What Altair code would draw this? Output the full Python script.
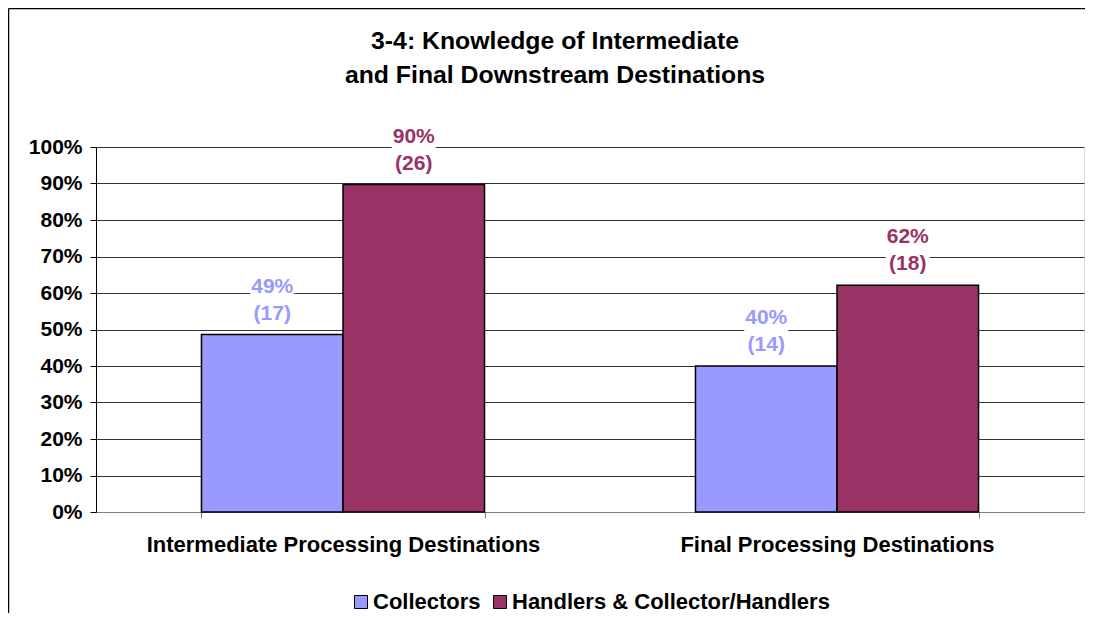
import altair as alt
import pandas as pd

categories = ["Intermediate Processing Destinations", "Final Processing Destinations"]
series = ["Collectors", "Handlers & Collector/Handlers"]
collectors_values = [0.486, 0.400]
handlers_values = [0.897, 0.621]
collectors_pct_labels = ["49%", "40%"]
handlers_pct_labels = ["90%", "62%"]
collectors_count_labels = ["(17)", "(14)"]
handlers_count_labels = ["(26)", "(18)"]
y_ticks = [0, 0.1, 0.2, 0.3, 0.4, 0.5, 0.6, 0.7, 0.8, 0.9, 1.0]
colors = ["#9999FF", "#993366"]

rows = []
for i, c in enumerate(categories):
    rows.append({"category": c, "series": series[0], "value": collectors_values[i],
                 "pct": collectors_pct_labels[i], "count": collectors_count_labels[i]})
    rows.append({"category": c, "series": series[1], "value": handlers_values[i],
                 "pct": handlers_pct_labels[i], "count": handlers_count_labels[i]})
df = pd.DataFrame(rows)

FONT = "Liberation Sans"
color_scale = alt.Scale(domain=series, range=colors)

W = 988
H = 365

base = alt.Chart(df).encode(
    x=alt.X("category:N", sort=categories,
            scale=alt.Scale(paddingInner=0.427, paddingOuter=0.2135),
            axis=alt.Axis(title=None, labelAngle=0, labelFont=FONT, labelFontSize=22,
                          labelFontWeight="bold", labelColor="black", tickBand="extent",
                          tickSize=6, tickColor="#808080", domainColor="#808080",
                          labelPadding=33, labelBaseline="alphabetic", labelLimit=0,
                          grid=False)),
    xOffset=alt.XOffset("series:N", sort=series, scale=alt.Scale(paddingInner=0, paddingOuter=0)),
    y=alt.Y("value:Q", scale=alt.Scale(domain=[0, 1], nice=False),
            axis=alt.Axis(title=None, values=y_ticks, format=".0%", labelFont=FONT,
                          labelFontSize=21, labelFontWeight="bold", labelColor="black",
                          tickSize=6, tickColor="black", domainColor="black", labelPadding=8,
                          grid=True, gridColor="#333333", gridWidth=1)),
)

bars = base.mark_bar(stroke="black", strokeWidth=1.5).encode(
    color=alt.Color("series:N", scale=color_scale, sort=series,
                    legend=alt.Legend(title=None, orient="none", direction="horizontal",
                                      legendX=254, legendY=444, symbolType="square",
                                      symbolSize=169, symbolStrokeColor="black",
                                      symbolStrokeWidth=1, labelFont=FONT, labelFontSize=22,
                                      labelFontWeight="bold", labelColor="black",
                                      labelOffset=1, columnPadding=8, padding=0,
                                      labelLimit=0))
)

boxes = base.mark_point(shape="M-1,-1.15H1V1.15H-1Z", size=1936, filled=True,
                        color="white", opacity=1, strokeWidth=0, yOffset=-34)

pct_text = base.mark_text(font=FONT, fontSize=21, fontWeight="bold", baseline="alphabetic",
                          yOffset=-42).encode(
    text="pct:N", color=alt.Color("series:N", scale=color_scale, legend=None))

count_text = base.mark_text(font=FONT, fontSize=21, fontWeight="bold", baseline="alphabetic",
                            yOffset=-15).encode(
    text="count:N", color=alt.Color("series:N", scale=color_scale, legend=None))

frame_df = pd.DataFrame({"k": [0]})
frame_top = alt.Chart(frame_df).mark_rule(color="black", strokeWidth=1.5).encode(
    x=alt.value(-87.5), x2=alt.value(W + 2), y=alt.value(-138.5))
frame_left = alt.Chart(frame_df).mark_rule(color="black", strokeWidth=1.5).encode(
    x=alt.value(-87.5), y=alt.value(-138.5), y2=alt.value(470))

chart = alt.layer(frame_top, frame_left, bars, boxes, pct_text, count_text).properties(
    width=W, height=H,
    autosize=alt.AutoSizeParams(type="none"),
    padding={"left": 88, "top": 139, "right": 1, "bottom": 101},
    title=alt.TitleParams(["3-4: Knowledge of Intermediate", "and Final Downstream Destinations"],
                          font=FONT, fontSize=24.8, fontWeight="bold", color="black",
                          lineHeight=34, anchor="middle", frame="group", dx=-35, offset=-80),
).configure_view(stroke="#808080", strokeWidth=2).configure(background="white")

chart.save("out.html", embed_options={"renderer": "svg", "actions": False})
